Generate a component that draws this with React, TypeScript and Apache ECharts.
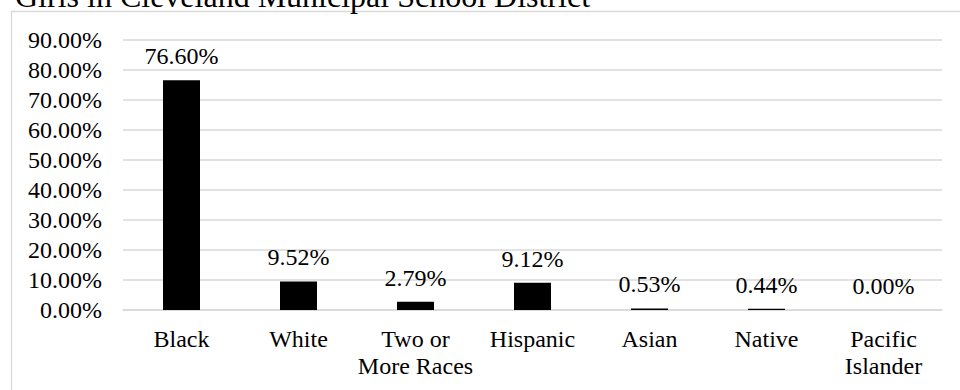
import React, { useEffect, useRef } from "react";
import * as echarts from "echarts";

const titleText = "Girls in Cleveland Municipal School District";
const categories = ["Black", "White", "Two or\nMore Races", "Hispanic", "Asian", "Native", "Pacific\nIslander"];
const shares = [76.6, 9.52, 2.79, 9.12, 0.53, 0.44, 0.0];
const axisMax = 90;
const axisStep = 10;

const FONT = "'Liberation Serif', 'Times New Roman', serif";
const GRID_GRAY = "#d9d9d9";

export default function App() {
  const ref = useRef<HTMLDivElement>(null);

  useEffect(() => {
    if (!ref.current) return;
    const chart = echarts.init(ref.current, undefined, { renderer: "svg" });
    const pct = (v: number) => `${v.toFixed(2)}%`;
    chart.setOption({
      animation: false,
      backgroundColor: "#ffffff",
      graphic: [
        {
          type: "rect",
          shape: { x: 11.5, y: 11.5, width: 1000, height: 600 },
          style: { fill: "none", stroke: GRID_GRAY, lineWidth: 1.3 },
          silent: true,
        },
        {
          type: "text",
          x: 15,
          y: -4,
          style: {
            text: titleText,
            font: `32px ${FONT}`,
            fill: "#000",
            verticalAlign: "middle",
            align: "left",
          },
        },
      ],
      grid: { left: 123, right: 18, top: 40, bottom: 80, containLabel: false },
      xAxis: {
        type: "category",
        data: categories,
        axisTick: { show: false },
        axisLine: { lineStyle: { color: GRID_GRAY, width: 1.5 } },
        axisLabel: {
          interval: 0,
          fontFamily: FONT,
          fontSize: 24,
          lineHeight: 27,
          color: "#000",
          margin: 15,
        },
      },
      yAxis: {
        type: "value",
        min: 0,
        max: axisMax,
        interval: axisStep,
        axisLine: { show: false },
        axisTick: { show: false },
        splitLine: { lineStyle: { color: GRID_GRAY, width: 1.5 } },
        axisLabel: {
          fontFamily: FONT,
          fontSize: 24,
          color: "#000",
          margin: 21,
          formatter: (v: number) => pct(v),
        },
      },
      series: [
        {
          type: "bar",
          data: shares,
          barWidth: 37,
          itemStyle: { color: "#000000" },
          label: {
            show: true,
            position: "top",
            distance: 12,
            fontFamily: FONT,
            fontSize: 24,
            color: "#000",
            formatter: (p: any) => pct(p.value),
          },
        },
      ],
    });
    return () => chart.dispose();
  }, []);

  return (
    <div
      ref={ref}
      style={{ position: "fixed", left: 0, top: 0, width: 960, height: 390 }}
    />
  );
}
